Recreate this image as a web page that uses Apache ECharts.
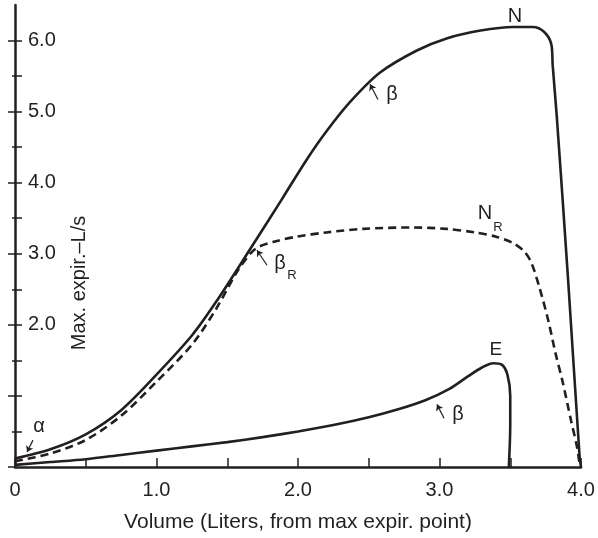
<!DOCTYPE html>
<html>
<head>
<meta charset="utf-8">
<script src="https://cdn.jsdelivr.net/npm/echarts@6/dist/echarts.min.js"></script>
<style>
  html, body { margin: 0; padding: 0; background: #fff; }
  #chart { width: 598px; height: 538px; }
</style>
</head>
<body>
<div id="chart"></div>
<script>
// curve N (normal, solid)
const nX = [0, 0.25, 0.5, 0.75, 1.0, 1.25, 1.42, 1.66, 1.89, 2.06, 2.2, 2.37, 2.58, 2.84, 3.05, 3.29, 3.52, 3.66, 3.74, 3.79, 3.80, 3.83, 3.91, 3.99, 4.0]
const nY = [0.12, 0.25, 0.46, 0.8, 1.3, 1.85, 2.32, 3.06, 3.78, 4.32, 4.72, 5.14, 5.55, 5.86, 6.03, 6.14, 6.19, 6.19, 6.12, 5.95, 5.65, 4.9, 2.6, 0.15, 0.0]
// curve N_R (dashed)
const nrX = [0, 0.25, 0.5, 0.75, 1.0, 1.25, 1.42, 1.58, 1.70, 1.85, 1.99, 2.2, 2.46, 2.81, 3.05, 3.25, 3.40, 3.52, 3.60, 3.65, 3.71, 3.77, 3.82, 3.87, 3.93, 3.97, 3.99]
const nrY = [0.08, 0.19, 0.38, 0.72, 1.2, 1.72, 2.22, 2.78, 3.07, 3.18, 3.24, 3.3, 3.35, 3.37, 3.35, 3.3, 3.24, 3.15, 3.03, 2.87, 2.5, 2.05, 1.6, 1.2, 0.65, 0.3, 0.05]
// curve E (solid, lower)
const eX = [0, 0.25, 0.5, 0.75, 1.0, 1.25, 1.5, 1.75, 2.0, 2.25, 2.5, 2.72, 2.9, 3.07, 3.19, 3.3, 3.38, 3.44, 3.48, 3.50, 3.50, 3.49]
const eY = [0.03, 0.07, 0.11, 0.17, 0.23, 0.29, 0.35, 0.42, 0.5, 0.59, 0.70, 0.82, 0.94, 1.1, 1.26, 1.4, 1.46, 1.44, 1.3, 1.0, 0.6, 0.0]

// tick positions
const xTicks = [0, 0.5, 1, 1.5, 2, 2.5, 3, 3.5, 4]
const yMajor = [0, 1, 2, 3, 4, 5, 6]
const yMinor = [0.5, 1, 1.5, 2, 2.5, 3, 3.5, 4, 4.5, 5, 5.5, 6]

// annotation labels
const labelText = ['N', 'N', 'R', 'E', 'β', 'β', 'R', 'β', 'α']
const labelX = [3.534, 3.322, 3.413, 3.399, 2.664, 1.873, 1.958, 3.131, 0.17]
const labelY = [6.34, 3.57, 3.37, 1.65, 5.24, 2.867, 2.70, 0.74, 0.57]
const labelSize = [20, 20, 13, 19, 20, 20, 13, 20, 20]
// small arrows: tail -> tip
const arrowFrom = [[2.565, 5.17], [1.781, 2.839], [3.032, 0.685], [0.127, 0.378]]
const arrowTo = [[2.509, 5.385], [1.710, 3.049], [2.982, 0.881], [0.085, 0.21]]

const ink = '#231f20'
const font = 'Liberation Sans, Arial, Helvetica, sans-serif'
const pairs = (xs, ys) => xs.map((x, i) => [x, ys[i]])

const chart = echarts.init(document.getElementById('chart'))
const yBase = {
	type: 'value',
	min: 0,
	max: 6.5,
	interval: 0.5,
	splitLine: { show: false },
	axisLine: { show: false },
	axisLabel: { show: false }
}
chart.setOption({
	animation: false,
	grid: { left: 15, right: 17, top: 5, bottom: 68 },
	xAxis: {
		type: 'value',
		min: 0,
		max: 4,
		interval: 0.5,
		name: 'Volume (Liters, from max expir. point)',
		nameLocation: 'middle',
		nameGap: 45,
		nameTextStyle: { color: ink, fontSize: 21, fontFamily: font },
		axisLine: { lineStyle: { color: ink, width: 2.5 } },
		axisTick: { inside: true, length: 9, customValues: xTicks, lineStyle: { color: ink, width: 1.5 } },
		axisLabel: {
			color: ink,
			fontSize: 20,
			fontFamily: font,
			margin: 13,
			formatter: v => (v === 0 ? '0' : v % 1 === 0 ? v.toFixed(1) : '')
		},
		splitLine: { show: false }
	},
	yAxis: [
		Object.assign({}, yBase, {
			axisLine: { show: true, lineStyle: { color: ink, width: 2.5 } },
			axisTick: { show: true, length: 7, customValues: yMajor, lineStyle: { color: ink, width: 1.5 } },
			axisLabel: {
				inside: true,
				color: ink,
				fontSize: 20,
				fontFamily: font,
				margin: 13,
				formatter: v => (v >= 2 && v % 1 === 0 ? v.toFixed(1) : '')
			}
		}),
		Object.assign({}, yBase, {
			position: 'left',
			axisTick: { show: true, inside: true, length: 7, customValues: yMinor, lineStyle: { color: ink, width: 1.5 } }
		}),
		Object.assign({}, yBase, {
			position: 'left',
			axisTick: { show: true, length: 3, customValues: yMinor, lineStyle: { color: ink, width: 1.5 } }
		})
	],
	series: [
		{
			type: 'line',
			data: pairs(nX, nY),
			symbol: 'none',
			smooth: 0.3,
			lineStyle: { color: ink, width: 2.6 }
		},
		{
			type: 'line',
			data: pairs(nrX, nrY),
			symbol: 'none',
			smooth: 0.3,
			lineStyle: { color: ink, width: 2.6, type: [8, 5] }
		},
		{
			type: 'line',
			data: pairs(eX, eY),
			symbol: 'none',
			smooth: 0.3,
			lineStyle: { color: ink, width: 2.6 }
		},
		{
			type: 'lines',
			coordinateSystem: 'cartesian2d',
			symbol: ['none', 'arrow'],
			symbolSize: 6,
			lineStyle: { color: ink, width: 1.2, opacity: 1 },
			data: arrowFrom.map((p, i) => ({ coords: [p, arrowTo[i]] }))
		},
		{
			type: 'scatter',
			symbolSize: 1,
			silent: true,
			itemStyle: { color: ink, opacity: 0 },
			label: {
				show: true,
				position: 'inside',
				color: ink,
				opacity: 1,
				textBorderWidth: 0,
				fontFamily: font,
				formatter: p => p.data.text
			},
			data: labelText.map((t, i) => ({
				value: [labelX[i], labelY[i]],
				text: t,
				label: { fontSize: labelSize[i] }
			}))
		}
	],
	graphic: [
		{
			type: 'text',
			x: 79,
			y: 283,
			rotation: Math.PI / 2,
			style: {
				text: 'Max. expir.–L/s',
				fill: ink,
				font: '20px ' + font,
				textAlign: 'center',
				textVerticalAlign: 'middle'
			}
		}
	]
})
</script>
</body>
</html>
